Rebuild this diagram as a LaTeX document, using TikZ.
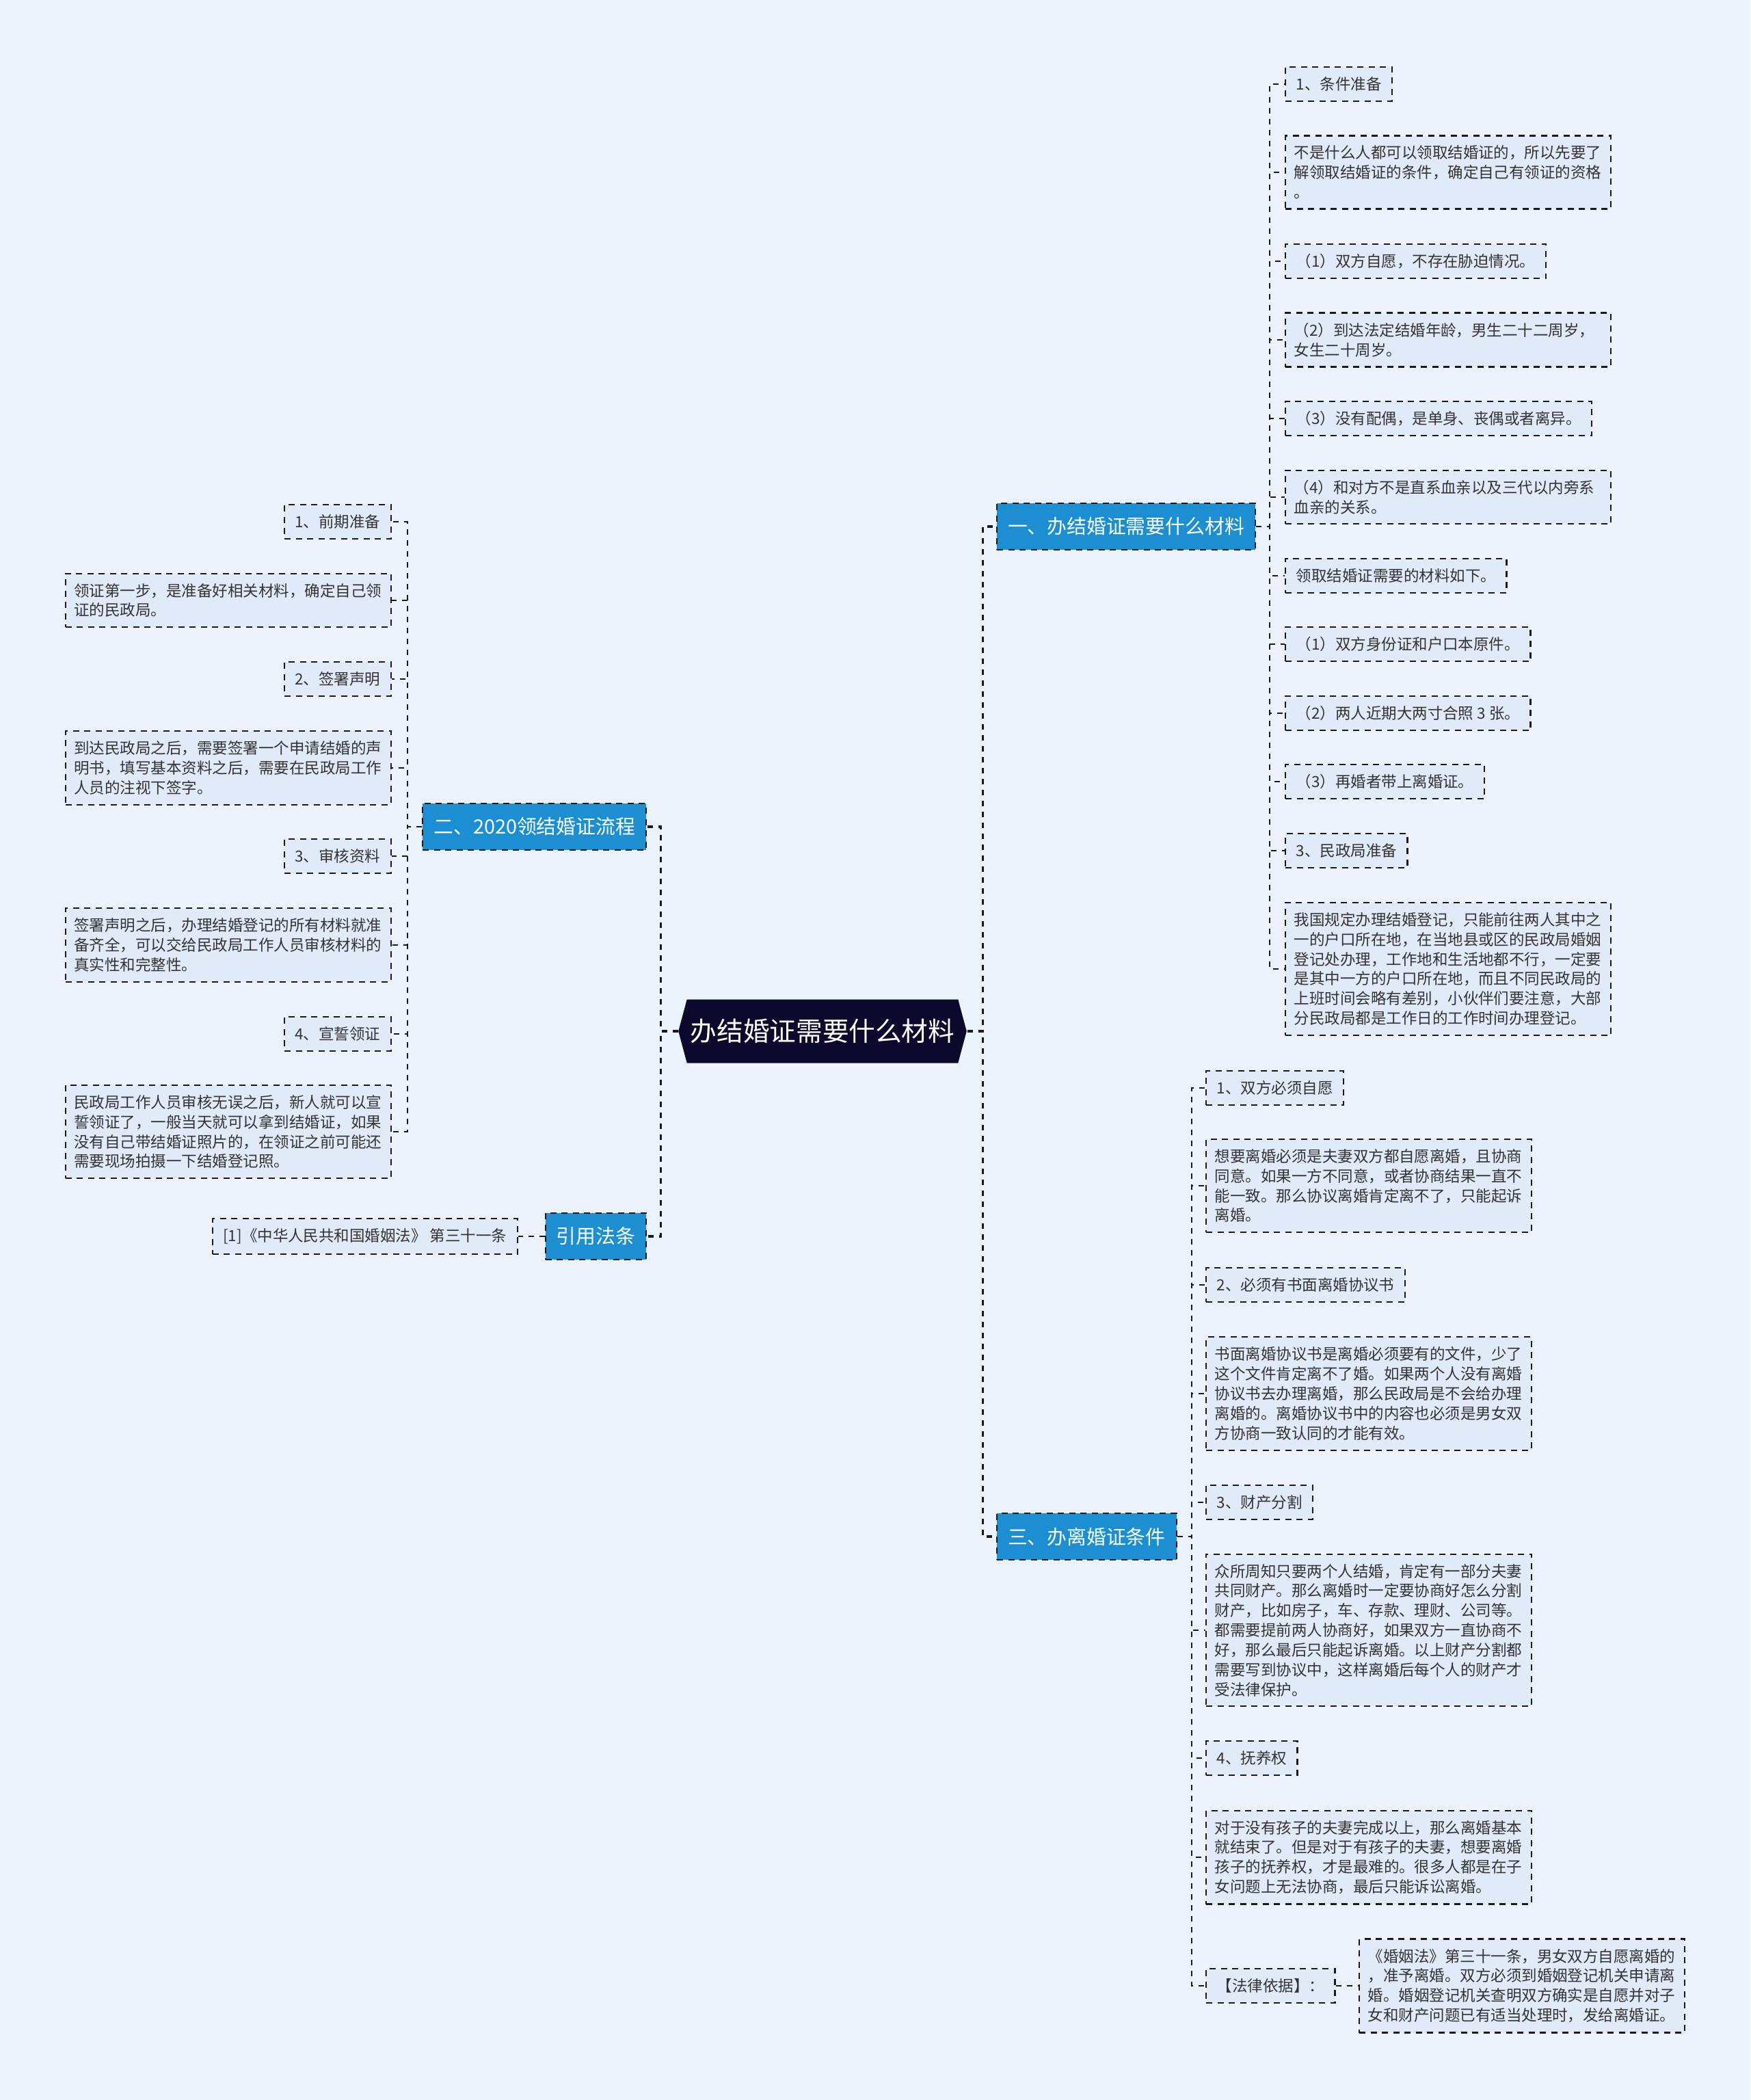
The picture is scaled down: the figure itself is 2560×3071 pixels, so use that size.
\documentclass[tikz,border=0pt]{standalone}
\usepackage{fontspec}
\usepackage{tikz}
\usetikzlibrary{shapes.symbols}
\newfontfamily\cjk{Noto Sans CJK SC}

\definecolor{bgcol}{HTML}{EDF3FD}
\definecolor{leaffill}{HTML}{E1EAF9}
\definecolor{branchfill}{HTML}{1B8FD2}
\definecolor{rootfill}{HTML}{0C0A2C}
\definecolor{linecol}{HTML}{1A1A1A}
\definecolor{textcol}{HTML}{333333}

\begin{document}
\begin{tikzpicture}[
  x=0.1mm, y=-0.1mm,
  every node/.style={font=\cjk},
  boxdash/.style={line width=0.6pt, dash pattern=on 0.9mm off 0.75mm},
  leafbox/.style={fill=leaffill, draw=linecol, boxdash, text=textcol,
    font=\cjk\fontsize{6.4pt}{8.2pt}\selectfont,
    inner xsep=1.55mm, inner ysep=1.45mm, align=left},
  textbox/.style={leafbox, text width=45.1mm, inner xsep=1.25mm},
  branchbox/.style={fill=branchfill, draw=linecol, boxdash, text=white,
    font=\cjk\fontsize{8.2pt}{10pt}\selectfont,
    inner xsep=1.6mm, minimum height=6.8mm},
  rootbox/.style={signal, signal to=west and east, signal pointer angle=150,
    fill=rootfill, text=white, font=\cjk\fontsize{11pt}{13pt}\selectfont,
    minimum height=9.3mm, inner xsep=0.5mm},
  link/.style={draw=linecol, line width=0.55pt, dash pattern=on 0.8mm off 0.8mm},
  rootlink/.style={draw=linecol, line width=0.9pt, dash pattern=on 0.8mm off 0.8mm},
]
% Canvas
\fill[bgcol] (0,0) rectangle (2560,3071);
\useasboundingbox (0,0) rectangle (2560,3071);

% Root and main branches
\node[rootbox] (root) at (1203,1508) {办结婚证需要什么材料};
\node[branchbox, anchor=west] (b1) at (1457,770) {一、办结婚证需要什么材料};
\node[branchbox, anchor=east] (b2) at (946,1209) {二、2020领结婚证流程};
\node[branchbox, anchor=west] (b3) at (1457,2247) {三、办离婚证条件};
\node[branchbox, anchor=east] (b4) at (946,1808) {引用法条};

% Branch 1: materials
\node[leafbox, anchor=west] (c11) at (1879,123) {1、条件准备};
\node[textbox, anchor=west] (c12) at (1879,252) {不是什么人都可以领取结婚证的，所以先要了\\解领取结婚证的条件，确定自己有领证的资格\\。};
\node[leafbox, anchor=west] (c13) at (1879,382) {（1）双方自愿，不存在胁迫情况。};
\node[textbox, anchor=west] (c14) at (1879,497) {（2）到达法定结婚年龄，男生二十二周岁，\\女生二十周岁。};
\node[leafbox, anchor=west] (c15) at (1879,612) {（3）没有配偶，是单身、丧偶或者离异。};
\node[textbox, anchor=west] (c16) at (1879,727) {（4）和对方不是直系血亲以及三代以内旁系\\血亲的关系。};
\node[leafbox, anchor=west] (c17) at (1879,842) {领取结婚证需要的材料如下。};
\node[leafbox, anchor=west] (c18) at (1879,942) {（1）双方身份证和户口本原件。};
\node[leafbox, anchor=west] (c19) at (1879,1043) {（2）两人近期大两寸合照 3 张。};
\node[leafbox, anchor=west] (c110) at (1879,1143) {（3）再婚者带上离婚证。};
\node[leafbox, anchor=west] (c111) at (1879,1244) {3、民政局准备};
\node[textbox, anchor=west] (c112) at (1879,1417) {我国规定办理结婚登记，只能前往两人其中之\\一的户口所在地，在当地县或区的民政局婚姻\\登记处办理，工作地和生活地都不行，一定要\\是其中一方的户口所在地，而且不同民政局的\\上班时间会略有差别，小伙伴们要注意，大部\\分民政局都是工作日的工作时间办理登记。};

% Branch 2: procedure
\node[leafbox, anchor=east] (c21) at (573,763) {1、前期准备};
\node[textbox, anchor=east] (c22) at (573,878) {领证第一步，是准备好相关材料，确定自己领\\证的民政局。};
\node[leafbox, anchor=east] (c23) at (573,993) {2、签署声明};
\node[textbox, anchor=east] (c24) at (573,1123) {到达民政局之后，需要签署一个申请结婚的声\\明书，填写基本资料之后，需要在民政局工作\\人员的注视下签字。};
\node[leafbox, anchor=east] (c25) at (573,1252) {3、审核资料};
\node[textbox, anchor=east] (c26) at (573,1382) {签署声明之后，办理结婚登记的所有材料就准\\备齐全，可以交给民政局工作人员审核材料的\\真实性和完整性。};
\node[leafbox, anchor=east] (c27) at (573,1512) {4、宣誓领证};
\node[textbox, anchor=east] (c28) at (573,1655) {民政局工作人员审核无误之后，新人就可以宣\\誓领证了，一般当天就可以拿到结婚证，如果\\没有自己带结婚证照片的，在领证之前可能还\\需要现场拍摄一下结婚登记照。};

% Branch 4: cited law
\node[leafbox, anchor=east] (c41) at (758,1808) {[1]《中华人民共和国婚姻法》 第三十一条};

% Branch 3: divorce conditions
\node[leafbox, anchor=west] (c31) at (1763,1591) {1、双方必须自愿};
\node[textbox, anchor=west] (c32) at (1763,1734) {想要离婚必须是夫妻双方都自愿离婚，且协商\\同意。如果一方不同意，或者协商结果一直不\\能一致。那么协议离婚肯定离不了，只能起诉\\离婚。};
\node[leafbox, anchor=west] (c33) at (1763,1879) {2、必须有书面离婚协议书};
\node[textbox, anchor=west] (c34) at (1763,2038) {书面离婚协议书是离婚必须要有的文件，少了\\这个文件肯定离不了婚。如果两个人没有离婚\\协议书去办理离婚，那么民政局是不会给办理\\离婚的。离婚协议书中的内容也必须是男女双\\方协商一致认同的才能有效。};
\node[leafbox, anchor=west] (c35) at (1763,2197) {3、财产分割};
\node[textbox, anchor=west] (c36) at (1763,2384) {众所周知只要两个人结婚，肯定有一部分夫妻\\共同财产。那么离婚时一定要协商好怎么分割\\财产，比如房子，车、存款、理财、公司等。\\都需要提前两人协商好，如果双方一直协商不\\好，那么最后只能起诉离婚。以上财产分割都\\需要写到协议中，这样离婚后每个人的财产才\\受法律保护。};
\node[leafbox, anchor=west] (c37) at (1763,2571) {4、抚养权};
\node[textbox, anchor=west] (c38) at (1763,2716) {对于没有孩子的夫妻完成以上，那么离婚基本\\就结束了。但是对于有孩子的夫妻，想要离婚\\孩子的抚养权，才是最难的。很多人都是在子\\女问题上无法协商，最后只能诉讼离婚。};
\node[leafbox, anchor=west] (c39) at (1763,2904) {【法律依据】：};
\node[textbox, anchor=west] (c391) at (1987,2904) {《婚姻法》第三十一条，男女双方自愿离婚的\\，准予离婚。双方必须到婚姻登记机关申请离\\婚。婚姻登记机关查明双方确实是自愿并对子\\女和财产问题已有适当处理时，发给离婚证。};

% Root connectors
\draw[rootlink] (root.east) -- ++(23,0) |- (b1.west);
\draw[rootlink] (root.east) -- ++(23,0) |- (b3.west);
\draw[rootlink] (root.west) -- ++(-25,0) |- (b2.east);
\draw[rootlink] (root.west) -- ++(-25,0) |- (b4.east);

% Branch 1 connectors
\draw[link] (b1.east) -- ++(20,0) |- (c11.west);
\draw[link] (b1.east) -- ++(20,0) |- (c12.west);
\draw[link] (b1.east) -- ++(20,0) |- (c13.west);
\draw[link] (b1.east) -- ++(20,0) |- (c14.west);
\draw[link] (b1.east) -- ++(20,0) |- (c15.west);
\draw[link] (b1.east) -- ++(20,0) |- (c16.west);
\draw[link] (b1.east) -- ++(20,0) |- (c17.west);
\draw[link] (b1.east) -- ++(20,0) |- (c18.west);
\draw[link] (b1.east) -- ++(20,0) |- (c19.west);
\draw[link] (b1.east) -- ++(20,0) |- (c110.west);
\draw[link] (b1.east) -- ++(20,0) |- (c111.west);
\draw[link] (b1.east) -- ++(20,0) |- (c112.west);

% Branch 2 connectors
\draw[link] (b2.west) -- ++(-21,0) |- (c21.east);
\draw[link] (b2.west) -- ++(-21,0) |- (c22.east);
\draw[link] (b2.west) -- ++(-21,0) |- (c23.east);
\draw[link] (b2.west) -- ++(-21,0) |- (c24.east);
\draw[link] (b2.west) -- ++(-21,0) |- (c25.east);
\draw[link] (b2.west) -- ++(-21,0) |- (c26.east);
\draw[link] (b2.west) -- ++(-21,0) |- (c27.east);
\draw[link] (b2.west) -- ++(-21,0) |- (c28.east);

% Branch 4 connector
\draw[link] (b4.west) -- (c41.east);

% Branch 3 connectors
\draw[link] (b3.east) -- ++(21,0) |- (c31.west);
\draw[link] (b3.east) -- ++(21,0) |- (c32.west);
\draw[link] (b3.east) -- ++(21,0) |- (c33.west);
\draw[link] (b3.east) -- ++(21,0) |- (c34.west);
\draw[link] (b3.east) -- ++(21,0) |- (c35.west);
\draw[link] (b3.east) -- ++(21,0) |- (c36.west);
\draw[link] (b3.east) -- ++(21,0) |- (c37.west);
\draw[link] (b3.east) -- ++(21,0) |- (c38.west);
\draw[link] (b3.east) -- ++(21,0) |- (c39.west);
\draw[link] (c39.east) -- (c391.west);
\end{tikzpicture}
\end{document}
